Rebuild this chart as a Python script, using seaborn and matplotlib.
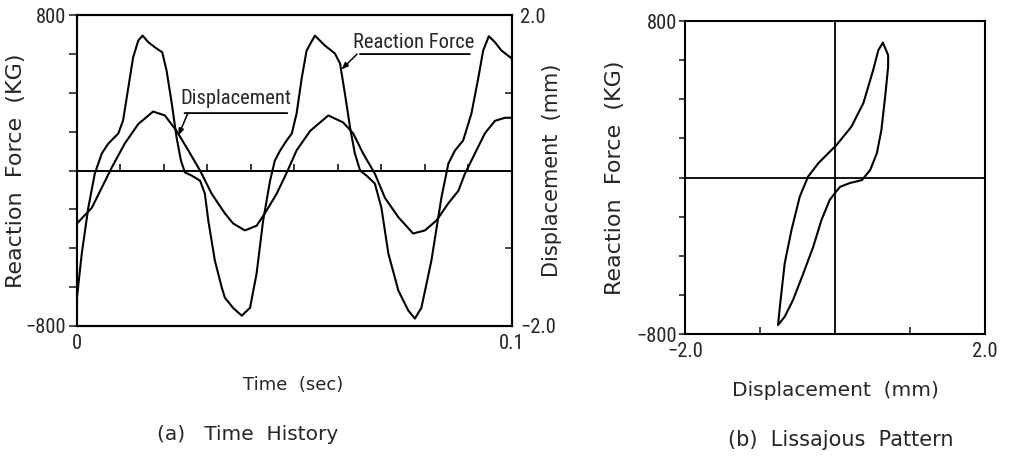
import os
import numpy as np
import pandas as pd
import matplotlib
matplotlib.use("Agg")
import matplotlib.pyplot as plt
import seaborn as sns
from matplotlib import font_manager as fm
from matplotlib.textpath import TextPath

# ---------------- data ----------------
force_time_ms = [0, 1.1, 2.6, 4.1, 5.7, 7.2, 9.5, 10.6, 11.8, 12.9, 14.1, 15.1, 16.4, 17.9,
                 19.6, 20.6, 21.8, 22.9, 23.9, 24.8, 26.4, 28.3, 29.4, 30.2, 31.7, 33.3,
                 34.0, 35.9, 37.9, 39.8, 41.3, 42.8, 44.4, 45.5, 46.7, 48.2, 49.4, 50.5,
                 51.7, 52.8, 54.7, 57.0, 59.3, 60.5, 61.6, 62.8, 63.9, 65.1, 66.6, 68.5,
                 70.0, 71.6, 73.9, 76.2, 77.7, 79.2, 81.5, 83.8, 85.4, 86.9, 88.8, 90.7,
                 92.3, 93.4, 94.7, 96.1, 97.6, 100]
force_kg = [-652, -427, -191, -15, 88, 139, 191, 258, 427, 582, 670, 695, 661, 635,
            609, 515, 345, 170, 52, -9, -26, -52, -118, -258, -463, -603,
            -654, -707, -747, -706, -530, -258, -52, 52, 103, 155, 191, 294,
            479, 618, 695, 644, 603, 551, 397, 221, 88, 0, -26, -67,
            -191, -427, -618, -721, -762, -706, -463, -139, 36, 103, 155, 294,
            479, 618, 692, 661, 618, 577]

disp_time_ms = [0, 3.4, 5.7, 8.0, 11.0, 14.1, 17.5, 20.2, 22.9, 25.6, 28.3, 31.0, 34.0,
                35.9, 38.6, 41.3, 43.2, 45.9, 48.2, 50.5, 53.6, 57.8, 61.2, 63.5, 65.8,
                68.5, 70.8, 73.9, 77.3, 80.0, 82.7, 85.4, 87.7, 89.2, 91.5, 93.8, 96.1,
                98.4, 100]
disp_mm = [-0.68, -0.48, -0.22, 0.04, 0.35, 0.60, 0.76, 0.71, 0.51, 0.26, 0.0, -0.30, -0.55,
           -0.68, -0.77, -0.71, -0.55, -0.30, -0.03, 0.26, 0.51, 0.71, 0.62, 0.48, 0.22,
           -0.04, -0.35, -0.60, -0.81, -0.77, -0.64, -0.42, -0.26, -0.04, 0.22, 0.48, 0.64,
           0.68, 0.68]

liss_disp_mm = [0.64, 0.71, 0.71, 0.67, 0.62, 0.56, 0.47, 0.36, 0.20, 0.07, 0.0, -0.07,
                -0.18, -0.29, -0.42, -0.56, -0.67, -0.76, -0.73, -0.67, -0.58, -0.47,
                -0.36, -0.22, 0.02, 0.22, 0.38, 0.51, 0.58, 0.64]
liss_force_kg = [689, 626, 566, 413, 243, 125, 38, -13, -28, -47, -79, -115,
                 -217, -354, -488, -626, -711, -754, -641, -437, -268, -98,
                 4, 74, 166, 260, 381, 549, 652, 689]

force_ticks = [-800, -600, -400, -200, 0, 200, 400, 600, 800]
force_ticklabels = ["\u2212800", "", "", "", "", "", "", "", "800"]
disp_ticks = [-2.0, -1.0, 1.0, 2.0]
disp_ticklabels = ["\u22122.0", "", "", "2.0"]
time_ticks = [0, 0.1]
time_ticklabels = ["0", "0.1"]
time_minor_ticks = [0.01, 0.02, 0.03, 0.04, 0.05, 0.06, 0.07, 0.08, 0.09]

# ---------------- style ----------------
sns.set_style("ticks")
plt.rcParams["font.family"] = ["DejaVu Sans"]
plt.rcParams["axes.linewidth"] = 1.5
plt.rcParams["axes.edgecolor"] = "black"


def pick_narrow():
    wanted = ["LiberationSansNarrow-Regular", "RobotoCondensed-Regular",
              "DejaVuSansCondensed.ttf", "OpenSans_Condensed-Regular",
              "OpenSansCondensed-Regular", "NotoSans-Condensed", "Roboto_Condensed-Regular"]
    files = [f.fname for f in fm.fontManager.ttflist]
    for w in wanted:
        for f in files:
            if w.lower() in os.path.basename(f).lower():
                return fm.FontProperties(fname=f)
    for f in files:
        b = os.path.basename(f).lower()
        if ("condensed" in b or "narrow" in b) and not any(
                k in b for k in ("bold", "italic", "oblique", "light", "thin", "black", "medium", "semi")):
            return fm.FontProperties(fname=f)
    return fm.FontProperties(family="DejaVu Sans", stretch="condensed")


NARROW_FP = pick_narrow()
# size such that "Displacement" is ~108 px wide, as in the reference
_w10 = TextPath((0, 0), "Displacement", size=10, prop=NARROW_FP).get_extents().width
NSIZE = 10 * (108 * 0.72) / _w10


def nfp():
    fp = NARROW_FP.copy()
    fp.set_size(NSIZE)
    return fp


LW = 1.5
fig = plt.figure(figsize=(10.09, 4.57), dpi=100)

# ---------------- (a) Time history ----------------
ax1 = fig.add_axes([0.0763, 0.2867, 0.431, 0.680])
ax2 = ax1.twinx()

df_f = pd.DataFrame({"t": np.array(force_time_ms) / 1000.0, "F": force_kg})
df_d = pd.DataFrame({"t": np.array(disp_time_ms) / 1000.0, "D": disp_mm})
sns.lineplot(data=df_f, x="t", y="F", ax=ax1, color="black", lw=LW, sort=False, estimator=None)
sns.lineplot(data=df_d, x="t", y="D", ax=ax2, color="black", lw=LW, sort=False, estimator=None)

ax1.set_xlim(0, 0.1)
ax1.set_ylim(-800, 800)
ax2.set_ylim(-2.0, 2.0)
ax1.axhline(0, color="black", lw=1.3)

sec = ax1.secondary_xaxis(0.5)
sec.set_xticks(time_minor_ticks)
sec.tick_params(direction="out", length=5, width=1.3, labeltop=False, labelbottom=False)
for s in sec.spines.values():
    s.set_linewidth(1.3)

ax1.set_xticks(time_ticks)
ax1.set_xticklabels(time_ticklabels, fontproperties=nfp())
ax1.tick_params(axis="x", length=0, pad=6)
ax1.set_yticks(force_ticks)
ax1.set_yticklabels(force_ticklabels, fontproperties=nfp())
ax1.tick_params(axis="y", direction="out", length=6, width=1.2, pad=2)
ax2.set_yticks(disp_ticks)
ax2.set_yticklabels(disp_ticklabels, fontproperties=nfp())
ax2.tick_params(axis="y", direction="in", length=5, width=1.2, pad=6)

ax1.set_xlabel("Time  (sec)", fontsize=13)
ax1.xaxis.set_label_coords(0.497, -0.161)
ax1.set_ylabel("Reaction  Force  (KG)", fontsize=16)
ax1.yaxis.set_label_coords(-0.117, 0.5)
ax2.set_ylabel("Displacement  (mm)", fontsize=15, rotation=90)
ax2.yaxis.set_label_coords(1.069, 0.5)

# annotations
ax1.text(0.366, 0.733, "Displacement", transform=ax1.transAxes, ha="center", va="center",
         fontproperties=nfp())
ax1.annotate("", xy=(0.490, 0.685), xytext=(0.241, 0.685), xycoords="axes fraction",
             arrowprops=dict(arrowstyle="-", lw=1.3, color="black"))
ax1.annotate("", xy=(0.0233, 180), xycoords="data", xytext=(0.255, 0.685),
             textcoords="axes fraction",
             arrowprops=dict(arrowstyle="-|>,head_length=0.4,head_width=0.15", lw=1.1,
                             color="black", shrinkA=0, shrinkB=0))
ax1.text(0.775, 0.913, "Reaction Force", transform=ax1.transAxes, ha="center", va="center",
         fontproperties=nfp())
ax1.annotate("", xy=(0.910, 0.875), xytext=(0.644, 0.875), xycoords="axes fraction",
             arrowprops=dict(arrowstyle="-", lw=1.3, color="black"))
ax1.annotate("", xy=(0.0608, 520), xycoords="data", xytext=(0.644, 0.875),
             textcoords="axes fraction",
             arrowprops=dict(arrowstyle="-|>,head_length=0.4,head_width=0.15", lw=1.1,
                             color="black", shrinkA=0, shrinkB=0))

# ---------------- (b) Lissajous pattern ----------------
ax3 = fig.add_axes([0.679, 0.269, 0.297, 0.685])
df_l = pd.DataFrame({"D": liss_disp_mm, "F": liss_force_kg})
sns.lineplot(data=df_l, x="D", y="F", ax=ax3, color="black", lw=LW, sort=False, estimator=None)
ax3.set_xlim(-2.0, 2.0)
ax3.set_ylim(-800, 800)
ax3.axhline(0, color="black", lw=1.3)
ax3.axvline(0, color="black", lw=1.3)
ax3.set_yticks(force_ticks)
ax3.set_yticklabels(force_ticklabels, fontproperties=nfp())
ax3.tick_params(axis="y", direction="out", length=4, width=1.2, pad=2)
ax3.set_xticks(disp_ticks)
ax3.set_xticklabels(disp_ticklabels, fontproperties=nfp())
ax3.tick_params(axis="x", direction="in", length=5, width=1.2, pad=6)
ax3.set_xlabel("Displacement  (mm)", fontsize=14.5)
ax3.xaxis.set_label_coords(0.5, -0.150)
ax3.set_ylabel("Reaction  Force  (KG)", fontsize=16)
ax3.yaxis.set_label_coords(-0.2, 0.5)

# captions
fig.text(248 / 1009, 1 - 434 / 457, "(a)   Time  History", ha="center", va="center", fontsize=14.5)
fig.text(841 / 1009, 1 - 440 / 457, "(b)  Lissajous  Pattern", ha="center", va="center", fontsize=15)

fig.savefig("out.png", dpi=100, facecolor="white")
